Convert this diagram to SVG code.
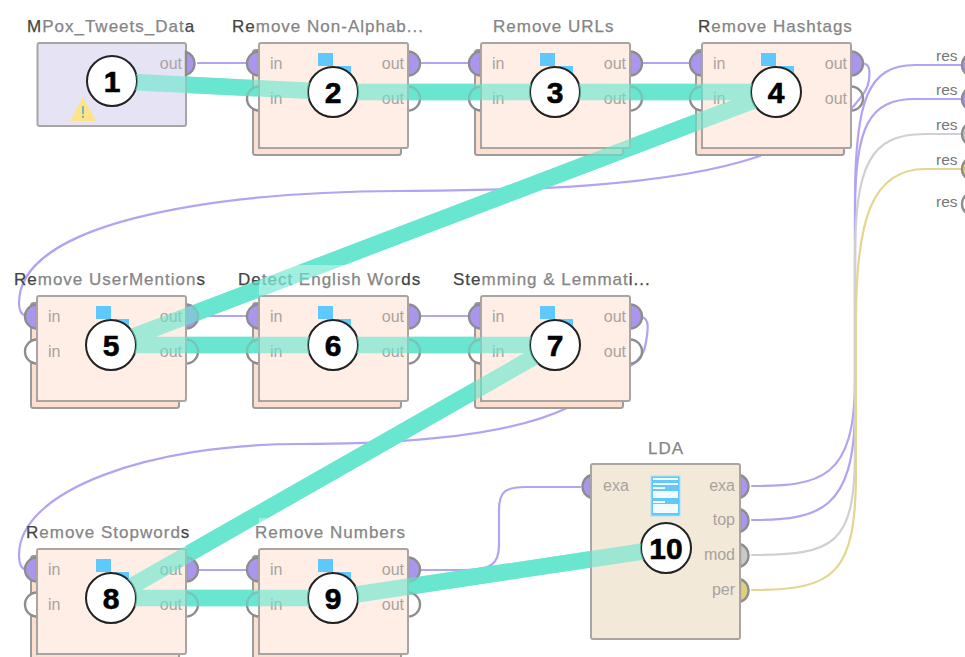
<svg xmlns="http://www.w3.org/2000/svg" width="965" height="657" viewBox="0 0 965 657">
<style>
text{font-family:"Liberation Sans",Arial,sans-serif}
.t{font-size:17px;fill:#858585;letter-spacing:1px;stroke:#858585;stroke-width:.25px}
.d{fill:#444;stroke:#444}
.p{font-size:16px;fill:#a8a3a0}
.pe{text-anchor:end}
.r{font-size:15.500px;fill:#777}
.b{font-size:30px;font-weight:bold;fill:#000;text-anchor:middle;stroke:#000;stroke-width:.6px}
.badge{fill:#fff;stroke:#222;stroke-width:2}
.box{stroke:#a8a5a2;stroke-width:2}
.op{fill:#ffeee5}
.w{fill:none;stroke-width:2.200;stroke-linecap:round}
.pu{stroke:#b4a2f2}
.gy{stroke:#d0d0d0}
.ye{stroke:#e3d690}
.port{stroke:#8d8d8d;stroke-width:2.400}
.pp{fill:#ab96ee}
.po{fill:none}
.sq{fill:#5fc8fd}
.te{fill:none;stroke:#69e6cf;stroke-width:16.500;stroke-linejoin:round}
</style>
<defs>
<path id="back" d="M0,7H-3.500Q-6,7-6,9.500V45.100A12,12 0 0 1 0,43.500ZM0,67.500A12,12 0 0 1-6,65.900V109.500Q-6,112-3.500,112H139.500Q142,112 142,109.500V105H0Z" fill="#fddfcf" stroke="#9c9c9c" stroke-width="2"/>
<rect id="front" class="box op" width="149" height="105" rx="2"/>
<path id="il" d="M0,8.500A12,12 0 0 0 0,32.500Z" class="port pp"/>
<path id="wl" d="M0,43.500A12,12 0 0 0 0,67.500" class="port po"/>
<path id="or" d="M149,8.500A12,12 0 0 1 149,32.500Z" class="port pp"/>
<path id="wr" d="M149,43.500A12,12 0 0 1 149,67.500" class="port po"/>
<g id="ic"><rect class="sq" x="59" y="10" width="15" height="13"/><rect class="sq" x="78" y="23" width="14" height="13"/></g>
<g id="frame"><rect x="0" y="-31" width="149" height="31" fill="#fff"/><use href="#back"/><use href="#il"/><use href="#wl"/><use href="#or"/><use href="#wr"/><use href="#front"/><use href="#ic"/>
<text class="p" x="11" y="26">in</text><text class="p" x="11" y="61">in</text><text class="p pe" x="145" y="26">out</text><text class="p pe" x="145" y="61">out</text></g>
<clipPath id="noBadge"><path clip-rule="evenodd" d="M0,0H965V657H0ZM87,81a25,25 0 1 0 50,0a25,25 0 1 0-50,0ZM308,92a25,25 0 1 0 50,0a25,25 0 1 0-50,0ZM530,92a25,25 0 1 0 50,0a25,25 0 1 0-50,0ZM751,92a25,25 0 1 0 50,0a25,25 0 1 0-50,0ZM86,345a25,25 0 1 0 50,0a25,25 0 1 0-50,0ZM308,345a25,25 0 1 0 50,0a25,25 0 1 0-50,0ZM530,345a25,25 0 1 0 50,0a25,25 0 1 0-50,0ZM86,598a25,25 0 1 0 50,0a25,25 0 1 0-50,0ZM308,598a25,25 0 1 0 50,0a25,25 0 1 0-50,0ZM641,548a25,25 0 1 0 50,0a25,25 0 1 0-50,0Z"/></clipPath>
</defs>
<rect width="965" height="657" fill="#fff"/>
<g id="connectors">
<path class="w pu" d="M198,63H247M419,63H469M641,63H691M198,316H247M419,316H469M198,570H247"/>
<path class="w pu" d="M862,63C870,64 870,70 869,80C868,88 865,93 852,108"/>
<path class="w pu" d="M760,156C660,190 500,190 400,191C200,192 19,225 19,303C19,311 22,315 26,316"/>
<path class="w pu" d="M641,317C650,318 648,330 646,342C645,350 641,360 630,366"/>
<path class="w pu" d="M567,408C500,440 380,444 300,444C150,444 19,490 19,555C19,565 22,569 26,570"/>
<path class="w pu" d="M419,570H465C490,570 499,565 499,545V510C499,492 505,487 525,487H580"/>
<path class="w pu" d="M752,486C820,486 855,480 855,380V200C855,100 868,65 915,65H962"/>
<path class="w pu" d="M752,520C820,520 854,510 855,410V210C855,125 870,99 915,99H962"/>
<path class="w gy" d="M752,555C835,555 855,545 855,450V260C855,165 870,134 925,134H962"/>
<path class="w ye" d="M752,590C835,590 856,575 856,470V320C856,220 872,169 925,169H962"/>
<path class="te" d="M112,81L333,92H776L111,345H555L111,598H333L666,548"/>
</g>
<g id="node1">
<rect x="37.500" y="43" width="148.500" height="83" rx="2" class="box" fill="#e6e3f5"/>
<path d="M186,52A12,12 0 0 1 186,75Z" class="port pp"/>
<text class="p pe" x="182" y="69">out</text>
<path d="M83,97L96,121H70Z" fill="#fde48a"/><rect x="82" y="106" width="2" height="8" fill="#7fb8b0"/><rect x="82" y="115.500" width="2" height="2.500" fill="#7fb8b0"/>
<text class="t" x="27" y="32"><tspan class="d">M</tspan>Pox_Tweets_Dat<tspan class="d">a</tspan></text>
<circle class="badge" cx="112" cy="81" r="25"/><text class="b" x="112" y="92">1</text>
</g>
<g id="node2"><use href="#frame" x="259" y="43"/>
<text class="t" x="232" y="32"><tspan class="d">Re</tspan>move Non-Alphab...</text>
<circle class="badge" cx="333" cy="92" r="25"/><text class="b" x="333" y="103">2</text></g>
<g id="node3"><use href="#frame" x="481" y="43"/>
<text class="t" x="493" y="32">Remove URLs</text>
<circle class="badge" cx="555" cy="92" r="25"/><text class="b" x="555" y="103">3</text></g>
<g id="node4"><use href="#frame" x="702" y="43"/>
<text class="t" x="698" y="32"><tspan class="d">R</tspan>emove Hashtags</text>
<circle class="badge" cx="776" cy="92" r="25"/><text class="b" x="776" y="103">4</text></g>
<g id="node5"><use href="#frame" x="37" y="296"/>
<text class="t" x="14" y="285"><tspan class="d">Re</tspan>move UserMention<tspan class="d">s</tspan></text>
<circle class="badge" cx="111" cy="345" r="25"/><text class="b" x="111" y="356">5</text></g>
<g id="node6"><use href="#frame" x="259" y="296"/>
<text class="t" x="238" y="285"><tspan class="d">De</tspan>tect English Wor<tspan class="d">ds</tspan></text>
<circle class="badge" cx="333" cy="345" r="25"/><text class="b" x="333" y="356">6</text></g>
<g id="node7"><use href="#frame" x="481" y="296"/>
<text class="t" x="453" y="285"><tspan class="d">Ste</tspan>mming &amp; Lemmat<tspan class="d">i...</tspan></text>
<circle class="badge" cx="555" cy="345" r="25"/><text class="b" x="555" y="356">7</text></g>
<g id="node8"><use href="#frame" x="37" y="549"/>
<text class="t" x="26" y="538"><tspan class="d">R</tspan>emove Stopword<tspan class="d">s</tspan></text>
<circle class="badge" cx="111" cy="598" r="25"/><text class="b" x="111" y="609">8</text></g>
<g id="node9"><use href="#frame" x="259" y="549"/>
<text class="t" x="255" y="538">Remove Numbers</text>
<circle class="badge" cx="333" cy="598" r="25"/><text class="b" x="333" y="609">9</text></g>
<g id="node10">
<path d="M591,475A12,12 0 0 0 591,498Z" class="port pp"/>
<path d="M740,475A12,12 0 0 1 740,498Z" class="port pp"/>
<path d="M740,509A12,12 0 0 1 740,532Z" class="port pp"/>
<path d="M740,544A12,12 0 0 1 740,567Z" class="port" fill="#c9c9c9"/>
<path d="M740,579A12,12 0 0 1 740,602Z" class="port" fill="#ded07f"/>
<rect x="591" y="464" width="149" height="175" rx="2" class="box" fill="#f3e9d8"/>
<rect x="651" y="476" width="29" height="40" fill="#5fc8fd" stroke="#a8e2fd"/>
<path fill="#f4fbff" d="M653,478h25v2h-25zM653,483h25v2h-25zM653,487h12v2h-12zM653,491h25v7h-25zM653,501h12v2h-12zM653,504h25v9h-25z"/>
<text class="p" x="603" y="491">exa</text>
<text class="p pe" x="735" y="491">exa</text>
<text class="p pe" x="735" y="525">top</text>
<text class="p pe" x="735" y="560">mod</text>
<text class="p pe" x="735" y="595">per</text>
<text class="t" x="648" y="454">LDA</text>
<circle class="badge" cx="666" cy="548" r="25"/><text class="b" x="666" y="559">10</text></g>
<g id="result-ports">
<circle cx="974" cy="65" r="12" class="port pp"/><circle cx="974" cy="99" r="12" class="port pp"/><circle cx="974" cy="134" r="12" class="port" fill="#c9c9c9"/><circle cx="974" cy="169" r="12" class="port" fill="#ded07f"/><circle cx="974" cy="204" r="12" class="port" fill="#fff"/>
<text class="r" x="936" y="61">res</text><text class="r" x="936" y="95">res</text><text class="r" x="936" y="130">res</text><text class="r" x="936" y="165">res</text><text class="r" x="936" y="207">res</text>
</g>
<g id="connector-overlay" clip-path="url(#noBadge)">
<path class="te" opacity=".63" d="M112,81L333,92H776L111,345H555L111,598H333L666,548"/>
</g>
</svg>
